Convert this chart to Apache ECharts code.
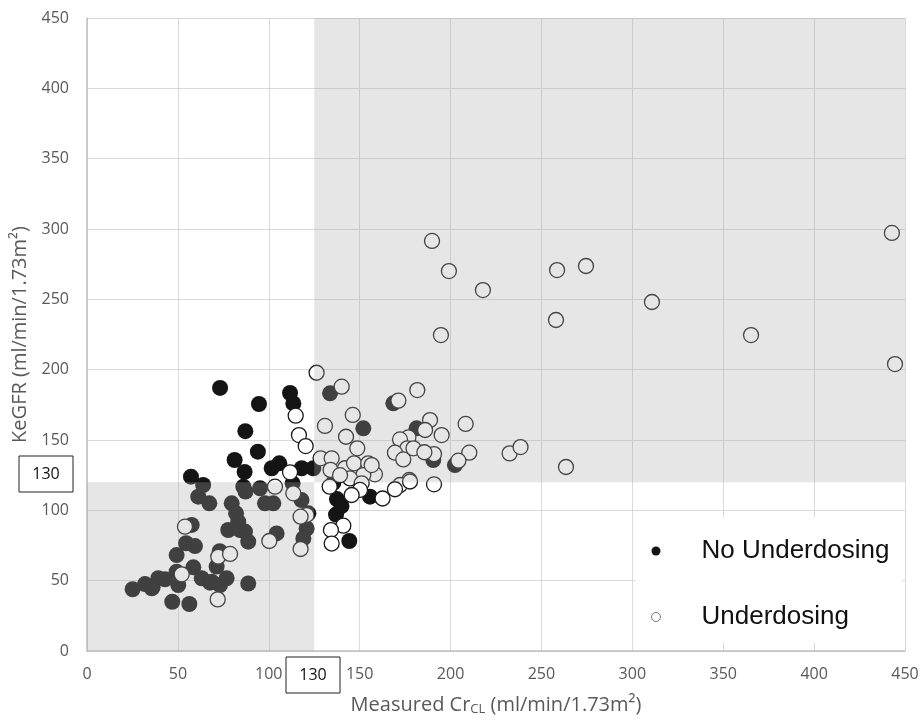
<!DOCTYPE html>
<html>
<head>
<meta charset="utf-8">
<script src="https://cdn.jsdelivr.net/npm/echarts@6/dist/echarts.min.js"></script>
<style>
    html, body { margin: 0; padding: 0; background: #fff; }
    #chart { width: 924px; height: 722px; }
</style>
</head>
<body>
<div id="chart"></div>
<script>
    // [measured CrCL, KeGFR]
    const noUnderdosing = [
        [73.2, 187], [111.7, 183.4], [113.5, 176], [94.6, 175.6], [87.1, 156.3], [94, 141.7],
        [81.2, 135.8], [86.7, 127.3], [101.6, 129.9], [105.8, 133.4], [118.1, 129.9], [124.5, 129.9],
        [113.1, 119.2], [57.2, 123.9],
        [135.5, 119.5], [137.5, 108], [140, 103], [137, 97], [155.7, 109.7], [144.3, 78.2],
        [133.7, 183.2], [152, 158.3], [168.5, 176.1], [181.3, 158.3], [190.5, 135.8], [202.4, 132.2],
        [63.9, 118], [61.2, 109.7], [67.3, 105], [79.6, 105], [82, 97.9], [83.2, 91.9], [77.7, 86],
        [84.2, 86], [86.9, 84.9], [88.7, 77.7], [86, 116.8], [87.2, 113.3], [95.2, 115.7], [97.9, 105],
        [102.5, 105], [104.3, 83.6], [118, 107.3], [121.8, 97.9], [120.8, 87.1], [119, 80],
        [57.6, 89.6], [54.5, 76.6], [59.4, 74.6], [49.3, 68.2], [58.5, 59.5], [49.3, 56.4], [50.2, 46.9],
        [42.9, 51], [39.2, 51.7], [31.9, 47.6], [25.1, 43.9], [36.1, 45.3], [46.9, 35], [56.3, 33.4],
        [63.1, 51.7], [67.7, 48.6], [73.2, 46.9], [76.8, 51.7], [71.3, 60], [88.7, 48], [73, 71],
        [68.6, 49.3], [35.6, 44.6]
    ];
    const underdosing = [
        [189.8, 291.5], [199.1, 270.1], [217.8, 256.6], [194.7, 224.6], [258.6, 270.8], [274.5, 273.7],
        [258, 235.3], [310.8, 248.1], [365.3, 224.6], [442.8, 297.2], [444.5, 204], [263.5, 130.8],
        [232.5, 140.5], [238.5, 145],
        [208.3, 161.4], [210.3, 141], [204.3, 135.3], [190.9, 118.5], [190.9, 140], [188.7, 164.2],
        [186, 157.1], [195.1, 153.5], [181.7, 185.5], [171.3, 178], [176.8, 151.8], [172.2, 150.4],
        [176.2, 144.1], [169.4, 141], [174, 136.2], [179.6, 144.1], [185.6, 141.3], [177.3, 121.6],
        [172.2, 118], [169.4, 115], [162.6, 108.4], [177.7, 120.5],
        [126.3, 197.8], [140.1, 187.9], [146.2, 167.8], [142.5, 152.3], [148.7, 144.1], [130.9, 160],
        [128.5, 137], [134.6, 137], [134, 128.7], [141.9, 129.9], [146.9, 133.4], [154.7, 133.4],
        [158.4, 125.6], [152, 125.1], [144.7, 122.7], [151.1, 119.2], [156.6, 132.2], [150.2, 114.5],
        [145.6, 110.9], [133.5, 116.8], [139.2, 125], [141, 89.1], [134.2, 86], [134.6, 76.4],
        [114.8, 167.3], [116.6, 153.5], [120.3, 145.7], [111.7, 127],
        [103.4, 116.8], [113.5, 112.1], [120.8, 96.7], [117.5, 95.5], [117.5, 72.5], [100.3, 78.2],
        [72.2, 67], [78.7, 69], [71.9, 36.7], [53.9, 88.4], [52.1, 54.5]
    ];
    const axisTicks = [0, 50, 100, 150, 200, 250, 300, 350, 400, 450];
    const thresholdX = 125;
    const thresholdY = 120;

    const labelColor = '#595959';
    const chart = echarts.init(document.getElementById('chart'));

    let axisBase = {
        type: 'value',
        min: axisTicks[0],
        max: axisTicks[axisTicks.length - 1],
        interval: axisTicks[1] - axisTicks[0],
        axisTick: { show: false },
        axisLine: { show: true, lineStyle: { color: '#bfbfbf', width: 1.5 } },
        splitLine: { show: true, lineStyle: { color: '#d9d9d9', width: 1 } },
        nameLocation: 'middle'
    };

    let option = {
        animation: false,
        grid: { left: 87, right: 19, top: 18, bottom: 71 },
        xAxis: Object.assign({}, axisBase, {
            name: 'Measured Cr{sub|CL} (ml/min/1.73m²)',
            nameGap: 43,
            nameTextStyle: {
                color: labelColor, fontSize: 20, fontFamily: 'Open Sans',
                rich: { sub: { color: labelColor, fontSize: 13, fontFamily: 'Open Sans', padding: [9, 0, 0, 0] } }
            },
            axisLabel: { color: labelColor, fontSize: 16, fontFamily: 'Open Sans', margin: 15 }
        }),
        yAxis: Object.assign({}, axisBase, {
            name: 'KeGFR (ml/min/1.73m²)',
            nameGap: 52,
            nameTextStyle: { color: labelColor, fontSize: 20, fontFamily: 'Open Sans' },
            axisLabel: { color: labelColor, fontSize: 16, fontFamily: 'Open Sans', margin: 18 }
        }),
        legend: {
            orient: 'vertical',
            left: 636,
            top: 517,
            padding: [21, 13, 13, 15],
            backgroundColor: '#fff',
            itemWidth: 9,
            itemHeight: 9,
            itemGap: 40,
            textStyle: { color: '#111', fontSize: 26, fontFamily: 'Liberation Sans', padding: [0, 0, 0, 36] },
            data: [
                { name: 'No Underdosing', icon: 'circle' },
                { name: 'Underdosing', icon: 'circle', itemStyle: { color: '#fff', borderColor: '#777', borderWidth: 1 } }
            ]
        },
        series: [
            {
                name: 'No Underdosing',
                type: 'scatter',
                z: 2,
                symbol: 'circle',
                symbolSize: 16,
                itemStyle: { color: '#141414', opacity: 1 },
                data: noUnderdosing
            },
            {
                name: 'Underdosing',
                type: 'scatter',
                z: 3,
                symbol: 'circle',
                symbolSize: 15,
                itemStyle: { color: '#fff', borderColor: '#1a1a1a', borderWidth: 1.3, opacity: 1 },
                data: underdosing
            },
            {
                // translucent shading drawn over the points
                name: 'shade',
                type: 'scatter',
                z: 20,
                data: [],
                markArea: {
                    silent: true,
                    z: 20,
                    itemStyle: { color: 'rgba(170,170,170,0.294)' },
                    data: [
                        [{ xAxis: thresholdX, yAxis: thresholdY }, { xAxis: axisTicks[axisTicks.length - 1], yAxis: axisTicks[axisTicks.length - 1] }],
                        [{ xAxis: axisTicks[0], yAxis: axisTicks[0] }, { xAxis: thresholdX, yAxis: thresholdY }]
                    ]
                }
            }
        ],
        graphic: [
            { type: 'rect', z: 100, shape: { x: 19, y: 456, width: 54, height: 36 }, style: { fill: '#fff', stroke: '#222', lineWidth: 1 } },
            { type: 'text', z: 101, x: 46, y: 474, style: { text: '130', fill: '#111', font: '16px "Open Sans"', align: 'center', verticalAlign: 'middle' } },
            { type: 'rect', z: 100, shape: { x: 286, y: 657, width: 54, height: 36 }, style: { fill: '#fff', stroke: '#222', lineWidth: 1 } },
            { type: 'text', z: 101, x: 313, y: 675, style: { text: '130', fill: '#111', font: '16px "Open Sans"', align: 'center', verticalAlign: 'middle' } }
        ]
    };

    chart.setOption(option);
</script>
</body>
</html>
